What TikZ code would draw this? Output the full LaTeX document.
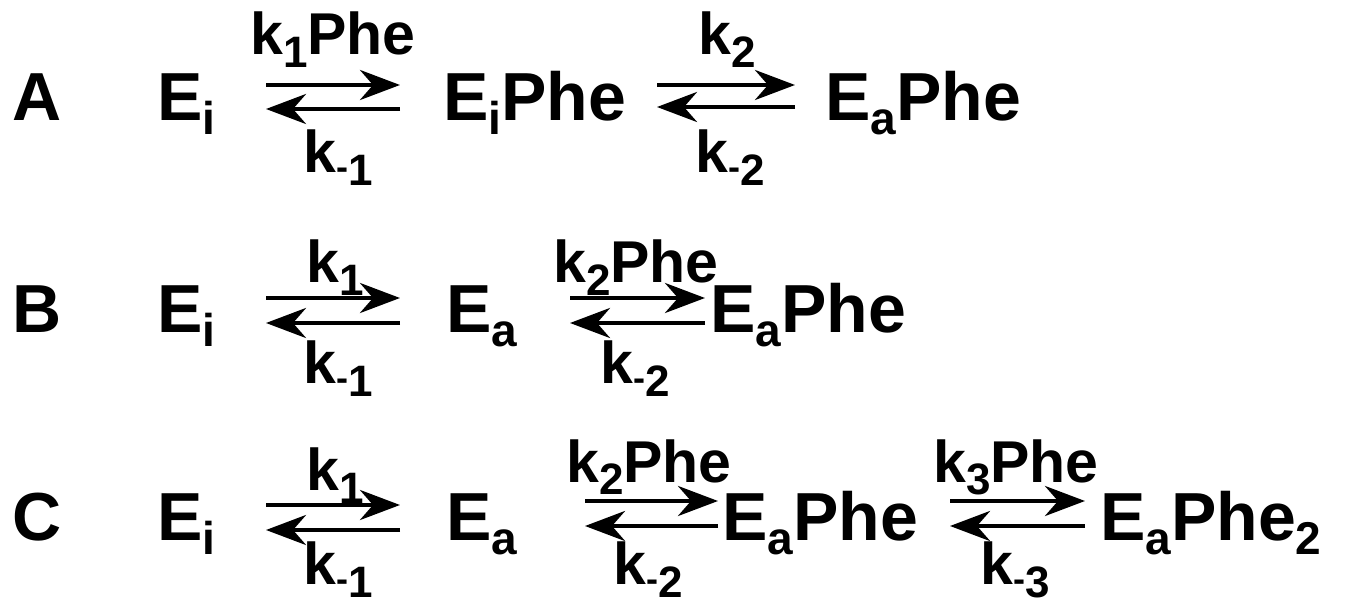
\documentclass[tikz,border=0pt]{standalone}
\usepackage{fontspec}
\setmainfont{Liberation Sans}
\usetikzlibrary{arrows.meta}
\newcommand{\mysub}[1]{\raisebox{-14pt}{\fontsize{46}{46}\selectfont #1}}
\newcommand{\mylsub}[1]{\raisebox{-13pt}{\fontsize{44}{44}\selectfont #1}}
\newcommand{\mym}{\raisebox{6pt}{\fontsize{36}{36}\selectfont -}}
\tikzset{
  species/.style={anchor=base west, inner sep=0pt, font=\fontsize{68}{68}\selectfont\bfseries},
  rate/.style={anchor=base west, inner sep=0pt, font=\fontsize{59}{59}\selectfont\bfseries},
  rxn/.style={line width=4.5pt, -{Stealth[length=40pt,width=30pt,inset=13pt]}}
}
\begin{document}
\begin{tikzpicture}[x=1pt,y=-1pt]
\useasboundingbox (0,0) rectangle (1353,612);
% Row A
\node[species] (la) at (12,121) {A};
\node[species] (a1) at (157,121) {E\mysub{i}};
\node[species] (a2) at (443,121) {E\mysub{i}Phe};
\node[species] (a3) at (825,121) {E\mysub{a}Phe};
\node[rate] (ka1) at (250,55) {k\mylsub{1}Phe};
\node[rate] (kam1) at (303,173) {k\mylsub{\mym1}};
\node[rate] (ka2) at (698,55) {k\mylsub{2}};
\node[rate] (kam2) at (695,173) {k\mylsub{\mym2}};
\coordinate (a1t) at (266,85); \coordinate (a1h) at (400,85);
\coordinate (a1b) at (400,109); \coordinate (a1c) at (266,109);
\coordinate (a2t) at (657,85); \coordinate (a2h) at (795,85);
\coordinate (a2b) at (795,107); \coordinate (a2c) at (657,107);
\draw[rxn] (a1t) -- (a1h);
\draw[rxn] (a1b) -- (a1c);
\draw[rxn] (a2t) -- (a2h);
\draw[rxn] (a2b) -- (a2c);
% Row B
\node[species] (lb) at (12,333) {B};
\node[species] (b1) at (157,333) {E\mysub{i}};
\node[species] (b2) at (446,333) {E\mysub{a}};
\node[species] (b3) at (710,333) {E\mysub{a}Phe};
\node[rate] (kb1) at (306,283) {k\mylsub{1}};
\node[rate] (kbm1) at (303,384) {k\mylsub{\mym1}};
\node[rate] (kb2) at (553,283) {k\mylsub{2}Phe};
\node[rate] (kbm2) at (600,384) {k\mylsub{\mym2}};
\coordinate (b1t) at (266,298); \coordinate (b1h) at (400,298);
\coordinate (b1b) at (400,323); \coordinate (b1c) at (266,323);
\coordinate (b2t) at (570,298); \coordinate (b2h) at (705,298);
\coordinate (b2b) at (705,323); \coordinate (b2c) at (570,323);
\draw[rxn] (b1t) -- (b1h);
\draw[rxn] (b1b) -- (b1c);
\draw[rxn] (b2t) -- (b2h);
\draw[rxn] (b2b) -- (b2c);
% Row C
\node[species] (lc) at (12,540) {C};
\node[species] (c1) at (157,540) {E\mysub{i}};
\node[species] (c2) at (446,540) {E\mysub{a}};
\node[species] (c3) at (722,540) {E\mysub{a}Phe};
\node[species] (c4) at (1100,540) {E\mysub{a}Phe\mysub{2}};
\node[rate] (kc1) at (306,490) {k\mylsub{1}};
\node[rate] (kcm1) at (303,584) {k\mylsub{\mym1}};
\node[rate] (kc2) at (566,482) {k\mylsub{2}Phe};
\node[rate] (kcm2) at (613,584) {k\mylsub{\mym2}};
\node[rate] (kc3) at (933,482) {k\mylsub{3}Phe};
\node[rate] (kcm3) at (980,584) {k\mylsub{\mym3}};
\coordinate (c1t) at (266,505); \coordinate (c1h) at (400,505);
\coordinate (c1b) at (400,530); \coordinate (c1c) at (266,530);
\coordinate (c2t) at (585,501); \coordinate (c2h) at (718,501);
\coordinate (c2b) at (718,526); \coordinate (c2c) at (585,526);
\coordinate (c3t) at (950,501); \coordinate (c3h) at (1085,501);
\coordinate (c3b) at (1085,526); \coordinate (c3c) at (950,526);
\draw[rxn] (c1t) -- (c1h);
\draw[rxn] (c1b) -- (c1c);
\draw[rxn] (c2t) -- (c2h);
\draw[rxn] (c2b) -- (c2c);
\draw[rxn] (c3t) -- (c3h);
\draw[rxn] (c3b) -- (c3c);
\end{tikzpicture}
\end{document}
